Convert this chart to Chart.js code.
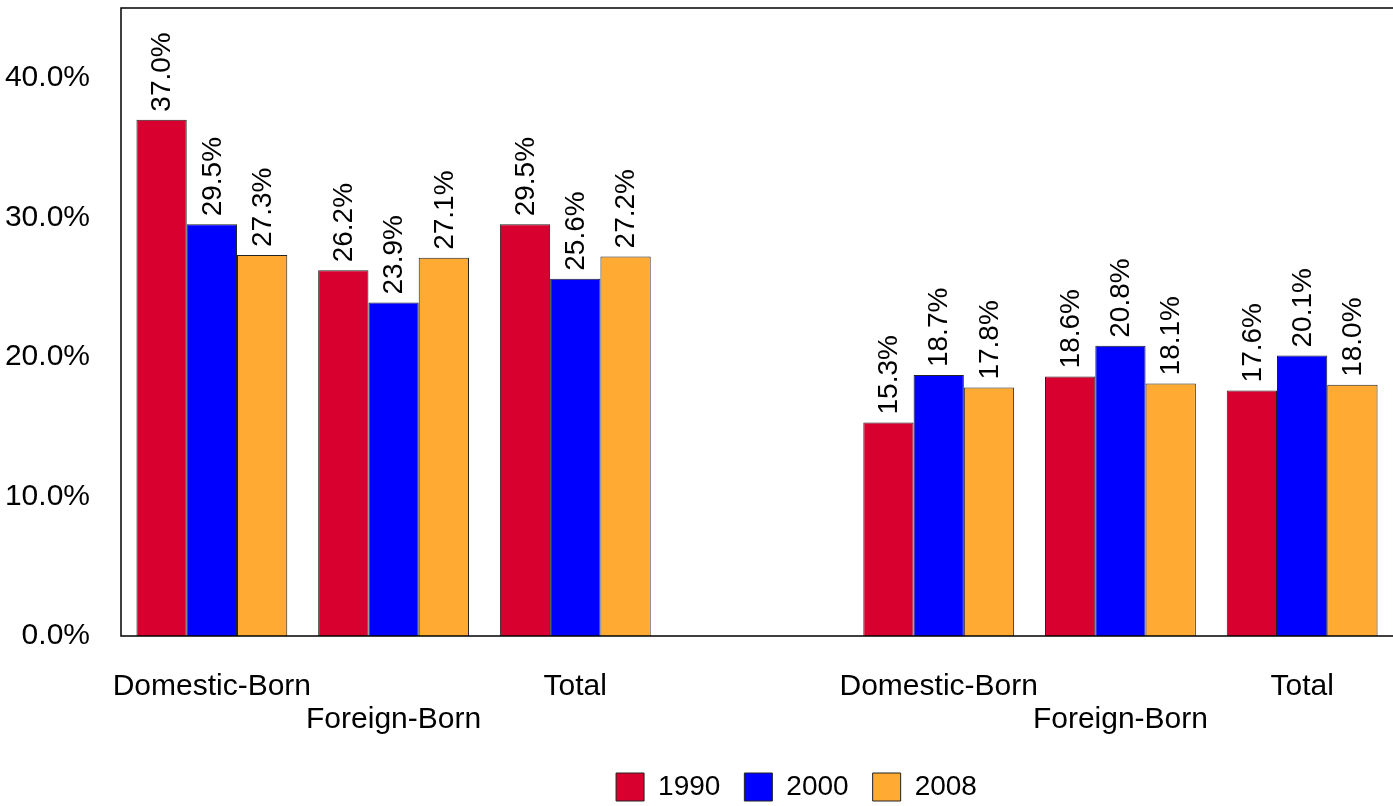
<!DOCTYPE html>
<html>
<head>
<meta charset="utf-8">
<script src="https://cdn.jsdelivr.net/npm/chart.js@4/dist/chart.umd.min.js"></script>
<style>
html,body{margin:0;padding:0;background:#fff;}
#wrap{width:1393px;height:806px;position:relative;}
</style>
</head>
<body>
<div id="wrap"><canvas id="c" width="1393" height="806"></canvas></div>
<script>
// Category labels (two-line, staggered as in the reference; slot 4 is an empty gap)
const categories = [
  ['Domestic-Born', ''],
  ['', 'Foreign-Born'],
  ['Total', ''],
  ['', ''],
  ['Domestic-Born', ''],
  ['', 'Foreign-Born'],
  ['Total', '']
];
const seriesNames = ['1990', '2000', '2008'];
const v1990 = [37.0, 26.2, 29.5, null, 15.3, 18.6, 17.6];
const v2000 = [29.5, 23.9, 25.6, null, 18.7, 20.8, 20.1];
const v2008 = [27.3, 27.1, 27.2, null, 17.8, 18.1, 18.0];
const yMax = 45;
const yStep = 10;

const FONT = '"Liberation Sans", Arial, sans-serif';

const frame = {
  id: 'frame',
  afterDatasetsDraw(chart) {
    const {ctx, chartArea: a} = chart;
    ctx.save();
    ctx.strokeStyle = '#000';
    ctx.lineWidth = 1.5;
    ctx.beginPath();
    ctx.moveTo(a.right + 2, a.top);
    ctx.lineTo(a.left, a.top);
    ctx.lineTo(a.left, a.bottom);
    ctx.lineTo(a.right + 2, a.bottom);
    ctx.stroke();
    ctx.restore();
  }
};

const valueLabels = {
  id: 'valueLabels',
  afterDatasetsDraw(chart) {
    const {ctx} = chart;
    ctx.save();
    ctx.fillStyle = '#000';
    ctx.font = '28px ' + FONT;
    ctx.textAlign = 'left';
    ctx.textBaseline = 'middle';
    chart.data.datasets.forEach((ds, di) => {
      const meta = chart.getDatasetMeta(di);
      meta.data.forEach((bar, i) => {
        const v = ds.data[i];
        if (v === null || v === undefined) return;
        ctx.save();
        ctx.translate(bar.x, bar.y - 8);
        ctx.rotate(-Math.PI / 2);
        ctx.fillText(v.toFixed(1) + '%', 0, 1);
        ctx.restore();
      });
    });
    ctx.restore();
  }
};

const legendShift = {
  id: 'legendShift',
  afterLayout(chart) {
    const lg = chart.legend;
    if (lg) { lg.left += 100; lg.right += 100; lg.top += 5; lg.bottom += 5; }
  }
};

new Chart(document.getElementById('c'), {
  type: 'bar',
  data: {
    labels: categories,
    datasets: [
      {label: seriesNames[0], data: v1990, backgroundColor: '#D8002F', borderColor: '#222', borderWidth: 1},
      {label: seriesNames[1], data: v2000, backgroundColor: '#0000FF', borderColor: '#222', borderWidth: 1},
      {label: seriesNames[2], data: v2008, backgroundColor: '#FFAA33', borderColor: '#222', borderWidth: 1}
    ]
  },
  options: {
    responsive: false,
    animation: false,
    layout: {padding: {top: 8, left: 0, right: 0, bottom: 0}},
    datasets: {bar: {categoryPercentage: 0.83, barPercentage: 1.0}},
    plugins: {
      tooltip: {enabled: false},
      legend: {
        position: 'bottom',
        labels: {
          color: '#000',
          font: {family: FONT, size: 28},
          boxWidth: 28,
          boxHeight: 28,
          padding: 24,
          generateLabels(chart) {
            return chart.data.datasets.map((ds, i) => ({
              text: ds.label,
              fillStyle: ds.backgroundColor,
              strokeStyle: '#222',
              lineWidth: 1,
              hidden: false,
              datasetIndex: i,
              fontColor: '#000'
            }));
          }
        }
      }
    },
    scales: {
      x: {
        grid: {display: false, drawTicks: false},
        border: {display: false},
        ticks: {
          color: '#000',
          font: {family: FONT, size: 30, lineHeight: 1.1},
          padding: 34,
          autoSkip: false,
          maxRotation: 0,
          minRotation: 0
        },
        afterFit(scale) { scale.height = 108; }
      },
      y: {
        min: 0,
        max: yMax,
        grid: {display: false, drawTicks: false},
        border: {display: false},
        ticks: {
          stepSize: yStep,
          includeBounds: false,
          color: '#000',
          font: {family: FONT, size: 30},
          padding: 31,
          callback: v => v.toFixed(1) + '%'
        },
        afterFit(scale) {
          scale.width = 121;
          scale.paddingTop = 0;
          scale.paddingBottom = 0;
        }
      }
    }
  },
  plugins: [frame, valueLabels, legendShift]
});
</script>
</body>
</html>
